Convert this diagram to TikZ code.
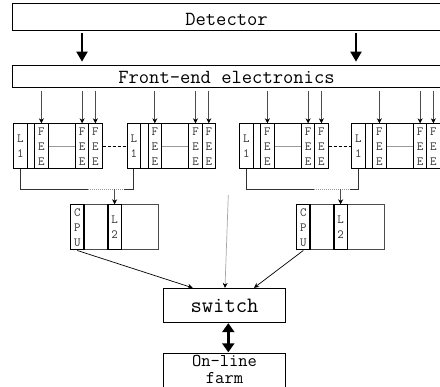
\documentclass[tikz,border=0pt]{standalone}
\usepackage{fontspec}
\usetikzlibrary{arrows.meta, calc}

\begin{document}
\begin{tikzpicture}[
    x=1pt, y=-1pt,
    font=\ttfamily,
    bar/.style={draw, line width=0.8pt, inner sep=0pt, minimum width=429pt,
                text depth=0pt, font=\ttfamily\fontsize{20}{20}\selectfont},
    crate/.style={draw, line width=1pt, minimum width=88.4pt, minimum height=45pt,
                  inner sep=0pt, anchor=north west},
    slot/.style={draw, line width=0.8pt, minimum width=13.4pt, minimum height=45pt,
                 inner sep=0pt, anchor=north west, align=center, text=black!80,
                 font=\ttfamily\fontsize{12.5}{15}\selectfont},
    feed/.style={black!70, line width=0.7pt, -{Stealth[length=5pt, width=5pt, color=black]}},
    bigarr/.style={line width=2pt, -{Triangle[length=10pt, width=11pt]}},
    dblarr/.style={line width=2.8pt,
                   {Triangle[length=9pt, width=12pt]}-{Triangle[length=9pt, width=12pt]}},
    bus/.style={black!80, line width=0.8pt},
  ]
    \useasboundingbox (0,0) rectangle (440,387);

    % detector and front-end
    \node[bar, minimum height=27pt, text height=19pt] (det) at (226.5,16.5) {Detector};
    \node[bar, minimum height=22.3pt, text height=14pt] (fe) at (226.5,76.2) {Front-end electronics};
    \foreach \x in {82, 356}
      \draw[bigarr, shorten <=3pt, shorten >=3pt] (det.south -| \x,0) -- (fe.north -| \x,0);

    % crates
    \foreach \n/\x in {a/13.3, b/126.7, c/239.3, d/351.3} {
      \node[crate] (cr\n) at (\x,123.3) {};
      \node[slot] (l\n)  at (\x,123.3) {L\\1};
      \node[slot] (fa\n) at (\x+21,123.3) {F\\E\\E};
      \node[slot] (fb\n) at (\x+61.7,123.3) {F\\E\\E};
      \node[slot] (fc\n) at (\x+75,123.3) {F\\E\\E};
      \draw[black!40, line width=1pt] (fa\n.east) -- (fb\n.west);
      \foreach \f in {fa,fb,fc}
        \draw[feed, shorten <=3pt] (\f\n.north |- fe.south) -- (\f\n.north);
    }
    \draw[line width=1pt, dash pattern=on 3pt off 2pt] (cra.east) -- (crb.west);
    \draw[line width=1pt, dash pattern=on 3pt off 2pt] (crc.east) -- (crd.west);

    % CPU boxes
    \foreach \m/\x in {a/70, b/296} {
      \node[crate, draw=black!70] (u\m) at (\x,204.3) {};
      \node[slot, line width=1.2pt] (c\m) at (\x,204.3) {C\\P\\U};
      \node[slot, line width=1.2pt] (l2\m) at (\x+37.3,204.3) {L\\2};
    }

    % L1 buses
    \foreach \p/\q/\m in {a/b/a, c/d/b} {
      \coordinate (bp\p) at (l\p.south |- 0,189);
      \coordinate (bq\p) at (l\q.south |- 0,189);
      \coordinate (ds\p) at ($(cr\p.west |- 0,189)+(75,0)$);
      \coordinate (de\p) at ($(cr\p.west |- 0,189)+(111,0)$);
      \draw[bus] (l\p.south) -- (bp\p) -- (ds\p);
      \draw[bus, black!40, dash pattern=on 1pt off 1pt] (ds\p) -- (de\p);
      \draw[bus] (de\p) -- (bq\p) -- (l\q.south);
      \draw[feed] (l2\m.north |- 0,189) -- (l2\m.north);
    }

    % switch and farm
    \node[draw, line width=0.9pt, minimum width=122.4pt, minimum height=34.4pt,
          font=\ttfamily\fontsize{22}{22}\selectfont] (sw) at (224.5,305.5) {switch};
    \draw[feed, black] (ca.south) -- (sw.north -| 192.7,0);
    \draw[feed, black] (cb.south) -- (sw.north -| 254,0);
    \coordinate (gsrc) at (228.3,195);
    \draw[feed, black!35] (gsrc) -- (sw.north -| 225,0);

    \coordinate (ft) at (228.3,353.3);
    \draw[line width=0.9pt] (163.3,400) |- (285.7,353.3) -- (285.7,400);
    \node[font=\ttfamily\fontsize{18}{17.5}\selectfont, align=center, inner sep=0pt]
      (farm) at (224.5,369.5) {On-line\\farm};
    \draw[dblarr, shorten >=1pt] (sw.south -| ft) -- (ft);
  \end{tikzpicture}
\end{document}
